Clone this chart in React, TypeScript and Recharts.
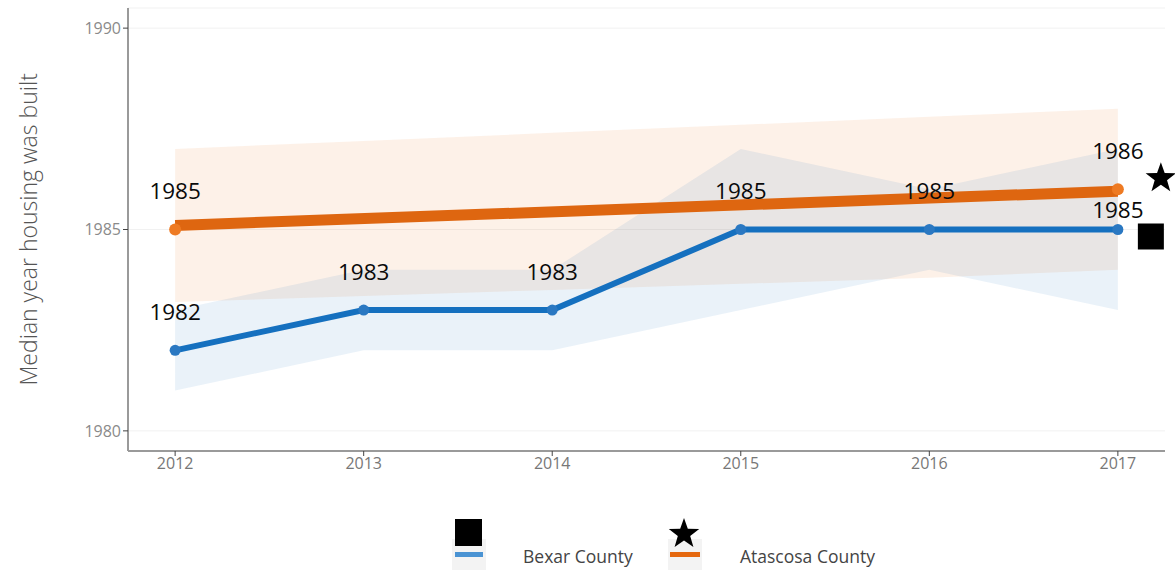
import React from "react";
import {
  ComposedChart,
  Area,
  Line,
  XAxis,
  YAxis,
  CartesianGrid,
} from "recharts";

if (typeof document !== "undefined") document.body.style.margin = "0";

// ------- data -------
const years = [2012, 2013, 2014, 2015, 2016, 2017];
const bexar = [1982, 1983, 1983, 1985, 1985, 1985];
const bexarLow = [1981, 1982, 1982, 1983, 1984, 1983];
const bexarHigh = [1983, 1984, 1984, 1987, 1986, 1987];
const atascosa = [1985, null, null, null, null, 1986];
const atascosaTrend = [1985.1, null, null, null, null, 1985.95];
const atascosaLow = [1983.2, 1983.35, 1983.5, 1983.65, 1983.8, 1984.0];
const atascosaHigh = [1987.0, 1987.2, 1987.4, 1987.6, 1987.8, 1988.0];
const yTicks = [1980, 1985, 1990];

const BLUE = "#1570bf";
const ORANGE = "#de6610";

const rows = years.map((year, i) => ({
  year,
  bexar: bexar[i],
  bexarBand: [bexarLow[i], bexarHigh[i]],
  atascosa: atascosa[i],
  trend: atascosaTrend[i],
  atascosaBand: [atascosaLow[i], atascosaHigh[i]],
}));

function starPath(cx: number, cy: number, R: number, r: number) {
  let d = "";
  for (let k = 0; k < 10; k++) {
    const rad = k % 2 === 0 ? R : r;
    const a = -Math.PI / 2 + (k * Math.PI) / 5;
    d += `${k === 0 ? "M" : "L"}${cx + rad * Math.cos(a)},${cy + rad * Math.sin(a)}`;
  }
  return d + "Z";
}

const last = years.length - 1;

function BlueDot(props: any) {
  const { cx, cy, index } = props;
  if (cx == null || cy == null) return null;
  return (
    <g key={`bd${index}`}>
      <circle cx={cx} cy={cy} r={5.5} fill="#2a78c2" />
      {index === last && (
        <rect x={cx + 20} y={cy - 6} width={26} height={26} fill="#000" />
      )}
    </g>
  );
}

function OrangeDot(props: any) {
  const { cx, cy, index, value } = props;
  if (cx == null || cy == null || value == null) return <g key={`od${index}`} />;
  return (
    <g key={`od${index}`}>
      <circle cx={cx} cy={cy} r={6} fill="#ee7a22" />
      {index === last && (
        <path d={starPath(cx + 43, cy - 11, 16, 6.5)} fill="#000" />
      )}
    </g>
  );
}

function ValueLabel(props: any) {
  const { x, y, value, index, lift } = props;
  if (value == null || x == null) return null;
  const off = index === last && lift ? 20 : 39;
  return (
    <text
      x={x}
      y={y - off}
      textAnchor="middle"
      dominantBaseline="central"
      fontFamily="'Open Sans', sans-serif"
      fontSize={22.5}
      fill="#0a0a0a"
    >
      {value}
    </text>
  );
}

export default function App() {
  return (
    <div style={{ position: "relative", width: 1175, height: 570, background: "#fff" }}>
      <ComposedChart
        width={1175}
        height={570}
        data={rows}
        margin={{ top: 8, right: 10, left: 68, bottom: 89 }}
      >
        <CartesianGrid vertical={false} stroke="#f1f1f1" />
        <XAxis
          dataKey="year"
          type="number"
          domain={[2011.75, 2017.25]}
          ticks={years}
          height={30}
          axisLine={{ stroke: "#9a9a9a", strokeWidth: 2 }}
          tickLine={{ stroke: "#444" }}
          tickSize={5}
          tick={{ fill: "#777", fontSize: 16, fontFamily: "'Open Sans', sans-serif" }}
        />
        <YAxis
          domain={[1979.5, 1990.5]}
          ticks={yTicks}
          width={60}
          axisLine={{ stroke: "#9a9a9a", strokeWidth: 2 }}
          tickLine={{ stroke: "#444" }}
          tickSize={5}
          tick={{ fill: "#8a8a8a", fontSize: 16, fontFamily: "'Open Sans', sans-serif" }}
          label={{
            value: "Median year housing was built",
            angle: -90,
            position: "insideLeft",
            dx: -44,
            dy: 156,
            style: {
              fill: "#555",
              fontSize: 23,
              fontFamily: "'Open Sans', sans-serif",
              fontWeight: 300,
            },
          }}
        />
        <Area
          type="linear"
          dataKey="atascosaBand"
          stroke="none"
          fill="rgb(235,115,25)"
          fillOpacity={0.1}
          isAnimationActive={false}
        />
        <Area
          type="linear"
          dataKey="bexarBand"
          stroke="none"
          fill="rgb(20,110,185)"
          fillOpacity={0.09}
          isAnimationActive={false}
        />
        <Line
          type="linear"
          dataKey="trend"
          stroke={ORANGE}
          strokeWidth={11}
          dot={false}
          connectNulls
          isAnimationActive={false}
        />
        <Line
          type="linear"
          dataKey="bexar"
          stroke={BLUE}
          strokeWidth={6}
          dot={<BlueDot />}
          label={<ValueLabel lift />}
          isAnimationActive={false}
        />
        <Line
          type="linear"
          dataKey="atascosa"
          stroke="none"
          dot={<OrangeDot />}
          label={<ValueLabel />}
          isAnimationActive={false}
        />
      </ComposedChart>

      {/* legend */}
      <div style={{ position: "absolute", left: 452, top: 539, width: 34, height: 31, background: "#f3f3f3" }} />
      <div style={{ position: "absolute", left: 455, top: 519, width: 27, height: 27, background: "#000" }} />
      <div style={{ position: "absolute", left: 455, top: 552, width: 28, height: 5, background: "#4a93d3" }} />
      <div style={{ position: "absolute", left: 523, top: 544, fontFamily: "'Open Sans', sans-serif", fontSize: 17.5, color: "#444" }}>
        Bexar County
      </div>
      <div style={{ position: "absolute", left: 668, top: 539, width: 34, height: 31, background: "#f3f3f3" }} />
      <svg style={{ position: "absolute", left: 666, top: 516 }} width={36} height={34}>
        <path d={starPath(18, 18, 16, 6.5)} fill="#000" />
      </svg>
      <div style={{ position: "absolute", left: 670, top: 552, width: 30, height: 5, background: "#e5680f" }} />
      <div style={{ position: "absolute", left: 740, top: 544, fontFamily: "'Open Sans', sans-serif", fontSize: 17.5, color: "#444" }}>
        Atascosa County
      </div>
    </div>
  );
}
